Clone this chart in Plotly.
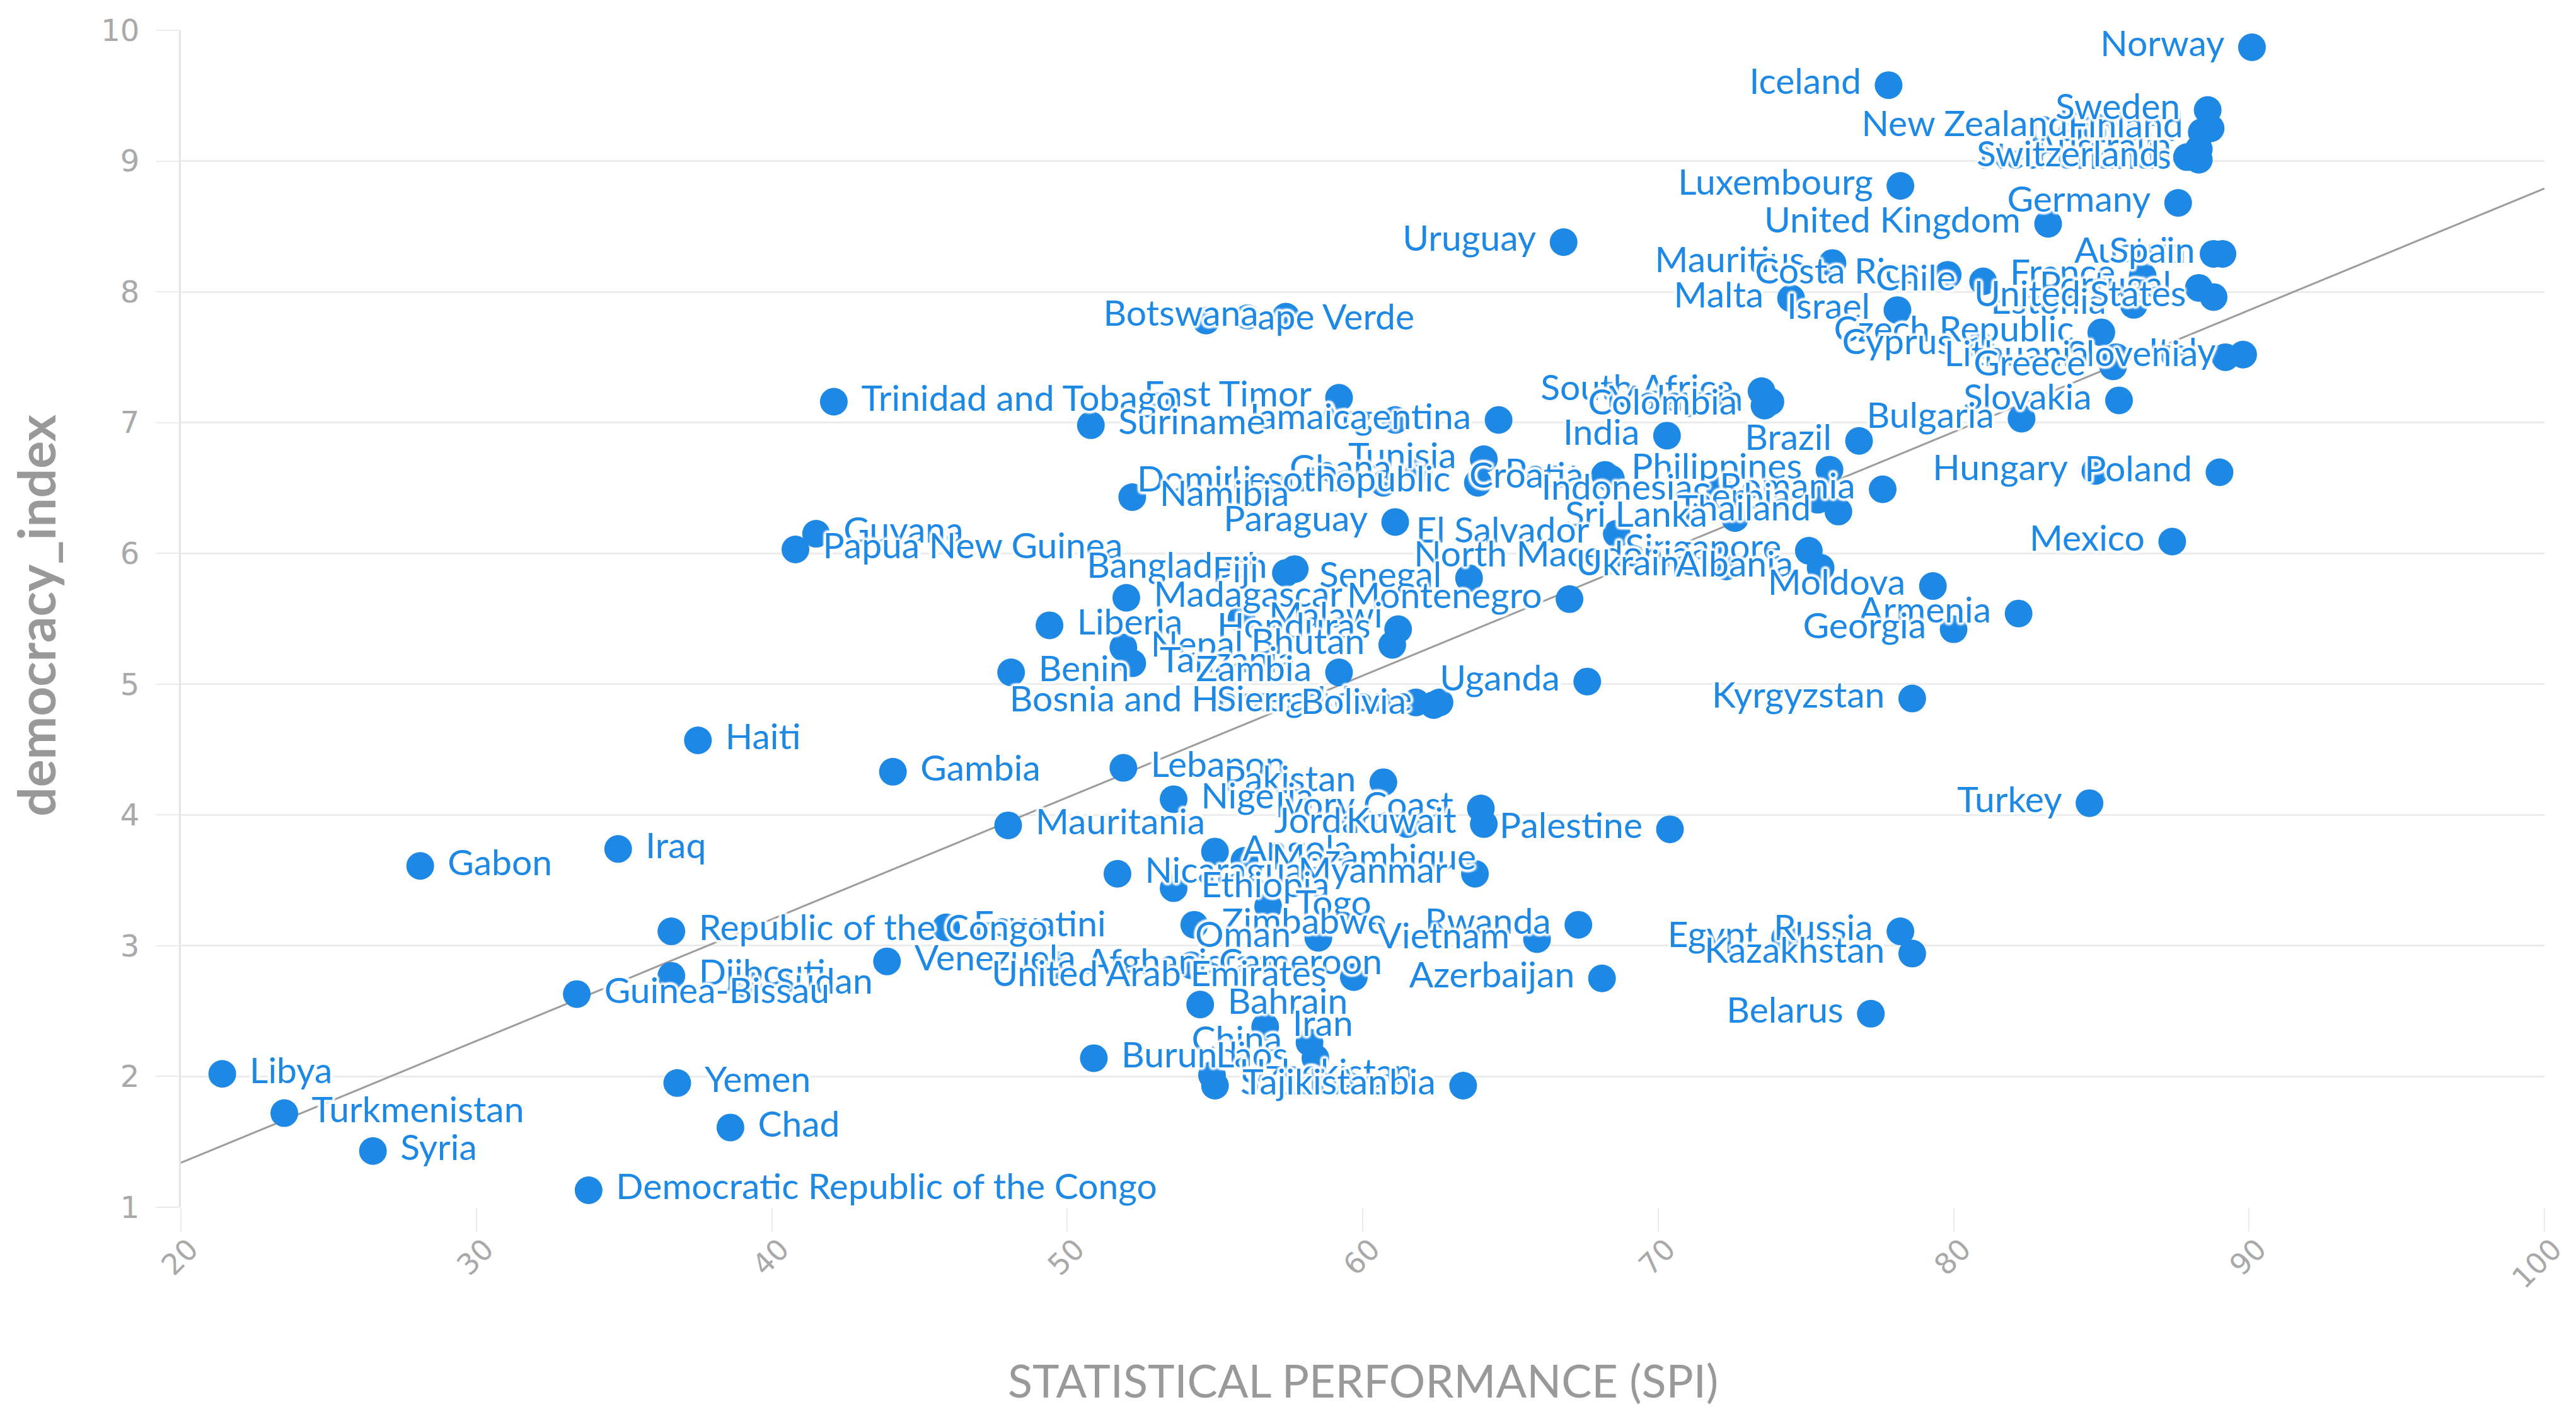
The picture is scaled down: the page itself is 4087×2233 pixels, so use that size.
import plotly.graph_objects as go

countries = [
    "Norway", "Iceland", "Denmark", "Australia", "Netherlands", "Finland", "New Zealand",
    "Switzerland", "Sweden", "Luxembourg", "Germany", "United Kingdom", "Uruguay",
    "Austria", "Spain", "Mauritius", "Costa Rica", "France", "Chile", "Portugal",
    "Estonia", "United States", "Malta", "Israel", "Cape Verde", "Botswana",
    "Czech Republic", "Cyprus", "Italy", "Slovenia", "Lithuania", "Greece",
    "South Africa", "East Timor", "Slovakia", "Malaysia", "Trinidad and Tobago",
    "Colombia", "Bulgaria", "Argentina", "Jamaica", "Suriname", "India", "Brazil",
    "Tunisia", "Philippines", "Ghana", "Hungary", "Poland", "Peru", "Croatia",
    "Dominican Republic", "Lesotho", "Romania", "Indonesia", "Namibia", "Serbia",
    "Thailand", "Sri Lanka", "Paraguay", "El Salvador", "Guyana", "Mexico",
    "Papua New Guinea", "Singapore", "North Macedonia", "Ukraine", "Albania",
    "Bangladesh", "Fiji", "Senegal", "Moldova", "Montenegro", "Madagascar",
    "Armenia", "Malawi", "Liberia", "Honduras", "Georgia", "Bhutan", "Nepal",
    "Tanzania", "Benin", "Zambia", "Uganda", "Kyrgyzstan", "Bosnia and Herzegovina",
    "Sierra Leone", "Bolivia", "Haiti", "Lebanon", "Gambia", "Pakistan", "Nigeria",
    "Turkey", "Ivory Coast", "Mauritania", "Jordan", "Kuwait", "Palestine", "Iraq",
    "Angola", "Mozambique", "Gabon", "Nicaragua", "Myanmar", "Ethiopia", "Togo",
    "Zimbabwe", "Rwanda", "Eswatini", "Republic of the Congo", "Russia", "Vietnam",
    "Egypt", "Oman", "Kazakhstan", "Venezuela", "Afghanistan", "Cameroon", "Djibouti",
    "United Arab Emirates", "Azerbaijan", "Sudan", "Guinea-Bissau", "Bahrain",
    "Belarus", "Iran", "China", "Burundi", "Laos", "Libya", "Uzbekistan", "Yemen",
    "Saudi Arabia", "Tajikistan", "Turkmenistan", "Chad", "Syria",
    "Democratic Republic of the Congo",
]

spi = [
    90.1, 77.8, 88.4, 88.3, 88.3, 88.7, 84.8,
    87.9, 88.6, 78.2, 87.6, 83.2, 66.8,
    88.8, 89.1, 75.9, 79.8, 86.4, 81.0, 88.3,
    86.1, 88.8, 74.5, 78.1, 54.7, 57.4,
    85.0, 80.9, 89.8, 89.2, 85.5, 85.4,
    73.5, 59.2, 85.6, 73.8, 42.1,
    73.6, 82.3, 64.6, 61.1, 50.8, 70.3, 76.8,
    64.1, 75.8, 61.9, 84.8, 89.0, 68.2, 68.4,
    63.9, 60.7, 77.6, 72.1, 52.2, 75.4,
    76.1, 72.6, 61.1, 68.6, 41.5, 87.4,
    40.8, 75.1, 72.0, 72.3, 75.5,
    57.7, 57.4, 63.6, 79.3, 67.0, 52.0,
    82.2, 55.9, 49.4, 61.2, 80.0, 61.0, 51.9,
    52.2, 48.1, 59.2, 67.6, 78.6, 61.8,
    62.6, 62.4, 37.5, 51.9, 44.1, 60.7, 53.6,
    84.6, 64.0, 48.0, 61.5, 64.1, 70.4, 34.8,
    55.0, 56.0, 28.1, 51.7, 63.8, 53.6, 56.8,
    54.3, 67.3, 45.9, 36.6, 78.2, 65.9,
    74.3, 58.5, 78.6, 43.9, 49.7, 54.2, 36.6,
    59.7, 68.1, 39.2, 33.4, 54.5,
    77.2, 56.7, 58.2, 50.9, 58.4, 21.4, 54.9, 36.8,
    63.4, 55.0, 23.5, 38.6, 26.5,
    33.8,
]

democracy_index = [
    9.87, 9.58, 9.22, 9.09, 9.01, 9.25, 9.26,
    9.03, 9.39, 8.81, 8.68, 8.52, 8.38,
    8.29, 8.29, 8.22, 8.13, 8.12, 8.08, 8.03,
    7.90, 7.96, 7.95, 7.86, 7.78, 7.81,
    7.69, 7.59, 7.52, 7.50, 7.50, 7.43,
    7.24, 7.19, 7.17, 7.16, 7.16,
    7.13, 7.03, 7.02, 7.02, 6.98, 6.90, 6.86,
    6.72, 6.64, 6.63, 6.63, 6.62, 6.60, 6.57,
    6.54, 6.54, 6.49, 6.48, 6.43, 6.41,
    6.32, 6.27, 6.24, 6.15, 6.15, 6.09,
    6.03, 6.02, 5.97, 5.90, 5.89,
    5.88, 5.85, 5.81, 5.75, 5.65, 5.66,
    5.54, 5.50, 5.45, 5.42, 5.42, 5.30, 5.28,
    5.16, 5.09, 5.09, 5.02, 4.89, 4.86,
    4.86, 4.84, 4.57, 4.36, 4.33, 4.25, 4.12,
    4.09, 4.05, 3.92, 3.93, 3.93, 3.89, 3.74,
    3.72, 3.65, 3.61, 3.55, 3.55, 3.44, 3.30,
    3.16, 3.16, 3.14, 3.11, 3.11, 3.05,
    3.06, 3.06, 2.94, 2.88, 2.85, 2.85, 2.77,
    2.76, 2.75, 2.70, 2.63, 2.55,
    2.48, 2.38, 2.26, 2.14, 2.14, 2.02, 2.01, 1.95,
    1.93, 1.93, 1.72, 1.61, 1.43,
    1.13,
]

fit_x = [20, 100]
fit_y = [1.34, 8.79]

x_ticks = [20, 30, 40, 50, 60, 70, 80, 90, 100]
y_ticks = [1, 2, 3, 4, 5, 6, 7, 8, 9, 10]

BLUE = "#1E88E5"
GRID = "#ebebeb"
TICK_GREY = "#a9a9a9"
TITLE_GREY = "#999999"
HALO = ("4px 0px 3px #ffffff, -4px 0px 3px #ffffff, 0px 4px 3px #ffffff, "
        "0px -4px 3px #ffffff, 3px 3px 3px #ffffff, -3px -3px 3px #ffffff, "
        "3px -3px 3px #ffffff, -3px 3px 3px #ffffff")

text_positions = ["middle left" if v > 57 else "middle right" for v in spi]

fig = go.Figure()

fig.add_trace(go.Scatter(
    x=fit_x, y=fit_y, mode="lines",
    line=dict(color="#9c9c9c", width=3),
    hoverinfo="skip", showlegend=False,
))

fig.add_trace(go.Scatter(
    x=spi, y=democracy_index, mode="markers",
    marker=dict(size=44, color=BLUE, line=dict(width=0)),
    hoverinfo="skip", showlegend=False,
))

fig.add_trace(go.Scatter(
    x=spi, y=democracy_index, mode="markers+text",
    text=countries, textposition=text_positions,
    marker=dict(size=68, color="rgba(0,0,0,0)", line=dict(width=0)),
    textfont=dict(family="Lato", size=57, color=BLUE, shadow=HALO),
    hoverinfo="skip", showlegend=False,
))

# The page body adds an 8px offset, so the figure is 8px smaller with margins trimmed.
fig.update_layout(
    width=4079, height=2225,
    margin=dict(l=279, r=46, t=29, b=317),
    plot_bgcolor="white", paper_bgcolor="white",
    showlegend=False,
    xaxis=dict(
        range=[20, 100], tickvals=x_ticks, tickangle=-45,
        showgrid=False, zeroline=False, showline=False,
        ticks="outside", ticklen=38, tickwidth=2, tickcolor=GRID,
        tickfont=dict(family="DejaVu Sans", size=46, color=TICK_GREY),
        ticklabelstandoff=-18, ticklabelshift=14,
    ),
    yaxis=dict(
        range=[1, 10], tickvals=y_ticks,
        showgrid=True, gridcolor=GRID, gridwidth=3,
        zeroline=False, showline=True, linecolor="#e4e4e4", linewidth=3,
        ticks="outside", ticklen=37, tickwidth=2, tickcolor=GRID,
        tickfont=dict(family="DejaVu Sans", size=48, color=TICK_GREY),
        ticklabelstandoff=16,
    ),
    annotations=[
        dict(text="STATISTICAL PERFORMANCE (SPI)", xref="paper", yref="paper",
             x=0.5, y=-0.1465, xanchor="center", yanchor="middle", showarrow=False,
             font=dict(family="Lato", size=72, color=TITLE_GREY)),
        dict(text="<b>democracy_index</b>", xref="paper", yref="paper",
             x=-0.0615, y=0.503, xanchor="center", yanchor="middle", showarrow=False,
             textangle=-90,
             font=dict(family="Lato", size=82, color=TITLE_GREY)),
    ],
)

fig.write_html("out.html")
